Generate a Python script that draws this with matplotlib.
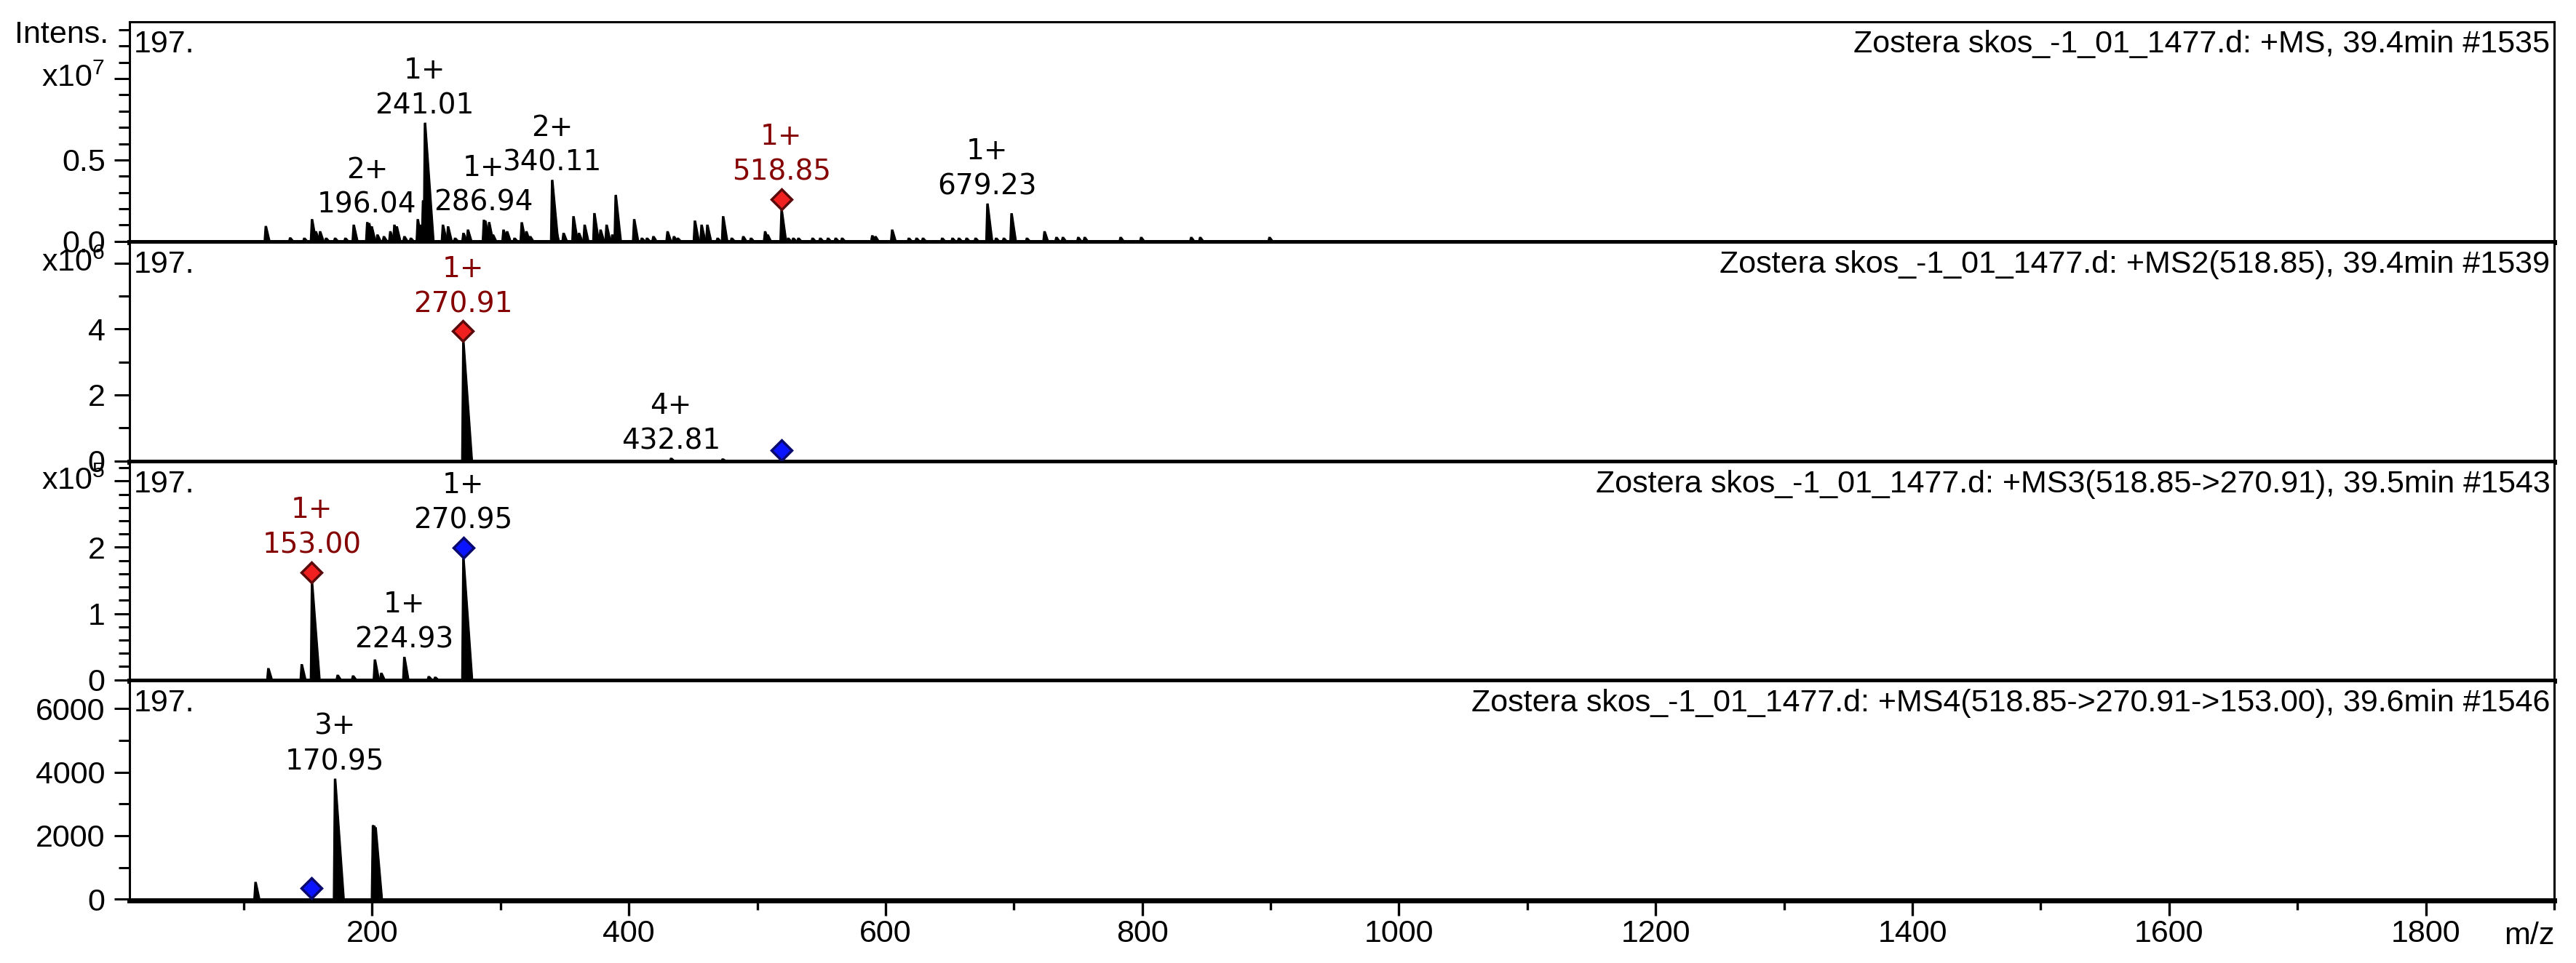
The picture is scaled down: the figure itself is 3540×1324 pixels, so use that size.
import matplotlib
matplotlib.use('Agg')
import matplotlib.pyplot as plt
from matplotlib.ticker import MultipleLocator, FixedLocator
from matplotlib.transforms import blended_transform_factory, offset_copy

plt.rcParams['font.family'] = ['Liberation Sans', 'DejaVu Sans']
plt.rcParams['mathtext.fontset'] = 'custom'
plt.rcParams['mathtext.rm'] = 'Liberation Sans'
plt.rcParams['mathtext.it'] = 'Liberation Sans:italic'

# MS1, intensities in x10^7
ms1_mz = [117, 136, 147, 153, 156, 159.3, 164, 171, 179, 185.5,
          196.04, 197.5, 199.5, 204, 209, 214, 217.2, 219, 225, 230,
          235.4, 237.5, 239.5, 241.01, 243, 255, 259, 264.5, 271, 274.5,
          286.94, 288, 291, 294, 302.2, 305, 310.8, 316.4, 320, 323,
          340.11, 342.5, 349, 356.7, 361, 365.4, 373, 377.8, 382.5, 387,
          389.6, 404, 410, 414, 419, 430, 435, 438, 451.3, 456.5,
          461, 469, 473.3, 480, 489, 495, 506, 508, 518.85, 524,
          528, 532, 543, 549, 555, 561, 566, 589.5, 592, 605,
          618, 624, 629, 644, 652, 657, 663, 670, 679.23, 686,
          692, 698, 710, 723.7, 733, 738, 750, 755, 783, 799,
          838, 845, 899]
ms1_int = [0.092, 0.022, 0.02, 0.134, 0.06, 0.06, 0.02, 0.02, 0.02, 0.10,
           0.116, 0.11, 0.09, 0.04, 0.03, 0.06, 0.10, 0.09, 0.03, 0.02,
           0.134, 0.10, 0.25, 0.726, 0.30, 0.10, 0.09, 0.02, 0.05, 0.07,
           0.13, 0.125, 0.116, 0.04, 0.07, 0.06, 0.02, 0.115, 0.06, 0.03,
           0.375, 0.09, 0.05, 0.152, 0.05, 0.10, 0.171, 0.07, 0.10, 0.04,
           0.283, 0.134, 0.02, 0.02, 0.03, 0.06, 0.03, 0.02, 0.125, 0.10,
           0.10, 0.02, 0.152, 0.02, 0.03, 0.02, 0.06, 0.04, 0.193, 0.02,
           0.02, 0.02, 0.02, 0.02, 0.02, 0.02, 0.02, 0.035, 0.03, 0.07,
           0.02, 0.02, 0.02, 0.02, 0.02, 0.02, 0.02, 0.02, 0.23, 0.02,
           0.02, 0.17, 0.02, 0.06, 0.025, 0.025, 0.025, 0.025, 0.025, 0.025,
           0.025, 0.025, 0.025]
ms1_labels = [(196.04, '2+'), (241.01, '1+'), (286.94, '1+'),
              (340.11, '2+'), (518.85, '1+'), (679.23, '1+')]

# MS2, x10^6
ms2_mz = [270.91, 432.81, 473]
ms2_int = [3.6, 0.08, 0.06]
ms2_labels = [(270.91, '1+'), (432.81, '4+')]

# MS3, x10^5
ms3_mz = [119, 145, 153.00, 173, 185, 202, 207, 224.93, 244, 249, 270.95]
ms3_int = [0.17, 0.23, 1.46, 0.07, 0.06, 0.30, 0.10, 0.34, 0.05, 0.04, 1.83]
ms3_labels = [(153.00, '1+'), (224.93, '1+'), (270.95, '1+')]

# MS4, raw counts
ms4_mz = [109, 170.95, 200.5, 201.5, 202.5]
ms4_int = [530, 3780, 2320, 2300, 2250]
ms4_labels = [(170.95, '3+')]

titles = ['Zostera skos_-1_01_1477.d: +MS, 39.4min #1535',
          'Zostera skos_-1_01_1477.d: +MS2(518.85), 39.4min #1539',
          'Zostera skos_-1_01_1477.d: +MS3(518.85->270.91), 39.5min #1543',
          'Zostera skos_-1_01_1477.d: +MS4(518.85->270.91->153.00), 39.6min #1546']

RED_FILL, RED_EDGE, RED_TEXT = '#f02020', '#5a0a0a', '#850000'
BLUE_FILL, BLUE_EDGE = '#0a14ff', '#0a0a6e'

W, H = 3540, 1324
fig = plt.figure(figsize=(W / 100, H / 100), dpi=100)
edges = [30, 333, 635, 936, 1238]
x0, x1 = 178, 3510

panels = [
    dict(mz=ms1_mz, inten=ms1_int, labels=ms1_labels, ylim=(-0.005, 1.348),
         major=[0, 0.5, 1.0], ticklabels=['0.0', '0.5', ''], minor=0.1, exp='x10$^7$',
         red=518.85, blue=None),
    dict(mz=ms2_mz, inten=ms2_int, labels=ms2_labels, ylim=(-0.03, 6.63),
         major=[0, 2, 4, 6], ticklabels=['0', '2', '4', ''], minor=1, exp='x10$^6$',
         red=270.91, blue=(518.85, 0.0)),
    dict(mz=ms3_mz, inten=ms3_int, labels=ms3_labels, ylim=(-0.015, 3.29),
         major=[0, 1, 2, 3], ticklabels=['0', '1', '2', ''], minor=0.2, exp='x10$^5$',
         red=153.00, blue=(270.95, None)),
    dict(mz=ms4_mz, inten=ms4_int, labels=ms4_labels, ylim=(-40, 6874),
         major=[0, 2000, 4000, 6000], ticklabels=['0', '2000', '4000', '6000'], minor=1000,
         exp=None, red=None, blue=(153.00, 0.0)),
]

for i, p in enumerate(panels):
    top, bot = edges[i], edges[i + 1]
    ax = fig.add_axes([x0 / W, 1 - bot / H, (x1 - x0) / W, (bot - top) / H])
    ax.set_xlim(11, 1900)
    ax.set_ylim(*p['ylim'])
    ytop = p['ylim'][1]
    heights = dict(zip(p['mz'], p['inten']))

    # profile-like peaks: steep front, short tail
    for m, h in zip(p['mz'], p['inten']):
        tail = 3.0 + 8.0 * h / ytop
        ax.fill([m - 1.2, m - 0.4, m + 0.8, m + tail], [0, h, h, 0],
                color='black', lw=1.0, zorder=2)

    mk = offset_copy(ax.transData, fig=fig, y=10.8, units='points')
    if p['red'] is not None:
        ax.plot(p['red'], heights[p['red']], marker='D', ms=14, mfc=RED_FILL,
                mec=RED_EDGE, mew=2.5, transform=mk, clip_on=False, zorder=5)
    if p['blue'] is not None:
        bm, bh = p['blue']
        if bh is None:
            bh = heights[bm]
        ax.plot(bm, bh, marker='D', ms=14, mfc=BLUE_FILL, mec=BLUE_EDGE,
                mew=2.5, transform=mk, clip_on=False, zorder=5)

    marked = [v for v in (p['red'], p['blue'][0] if p['blue'] else None) if v is not None]
    for m, charge in p['labels']:
        off = 24 if m in marked else 3.6
        col = RED_TEXT if m == p['red'] else 'black'
        ax.annotate(f'{charge}\n{m:.2f}', xy=(m, heights[m]), xytext=(0, off),
                    textcoords='offset points', ha='center', va='bottom',
                    fontsize=28, family='DejaVu Sans', color=col,
                    linespacing=1.34, zorder=6)

    # axes frame and ticks
    for side in ['top', 'left', 'right']:
        ax.spines[side].set_linewidth(2.2)
    ax.spines['bottom'].set_linewidth(5)
    ax.yaxis.set_major_locator(FixedLocator(p['major']))
    ax.set_yticklabels(p['ticklabels'])
    ax.yaxis.set_minor_locator(MultipleLocator(p['minor']))
    ax.tick_params(axis='y', which='major', length=15, width=2.2, labelsize=31, pad=9)
    ax.tick_params(axis='y', which='minor', length=10.8, width=2.2)
    if i < 3:
        ax.tick_params(axis='x', which='both', bottom=False, labelbottom=False)
    else:
        ax.xaxis.set_minor_locator(MultipleLocator(100))
        ax.set_xticks([200, 400, 600, 800, 1000, 1200, 1400, 1600, 1800])
        ax.tick_params(axis='x', which='major', length=15, width=2.4, labelsize=31, pad=4)
        ax.tick_params(axis='x', which='minor', length=9, width=2.4)

    if p['exp']:
        tr = blended_transform_factory(ax.transAxes, ax.transData)
        ax.annotate(p['exp'], xy=(0, p['major'][-1]), xycoords=tr, xytext=(-24.5, 0),
                    textcoords='offset points', ha='right', va='center', fontsize=31)

    ax.annotate('197.', xy=(0, 1), xycoords='axes fraction', xytext=(4, -8),
                textcoords='offset points', ha='left', va='top', fontsize=31)
    ax.annotate(titles[i], xy=(1, 1), xycoords='axes fraction', xytext=(-4, -8),
                textcoords='offset points', ha='right', va='top', fontsize=31)

fig.text(149 / W, 1 - 48 / H, 'Intens.', ha='right', va='center', fontsize=31)
fig.text(x1 / W, 1 - 1287 / H, 'm/z', ha='right', va='center', fontsize=31)

fig.savefig('out.png', dpi=100)
